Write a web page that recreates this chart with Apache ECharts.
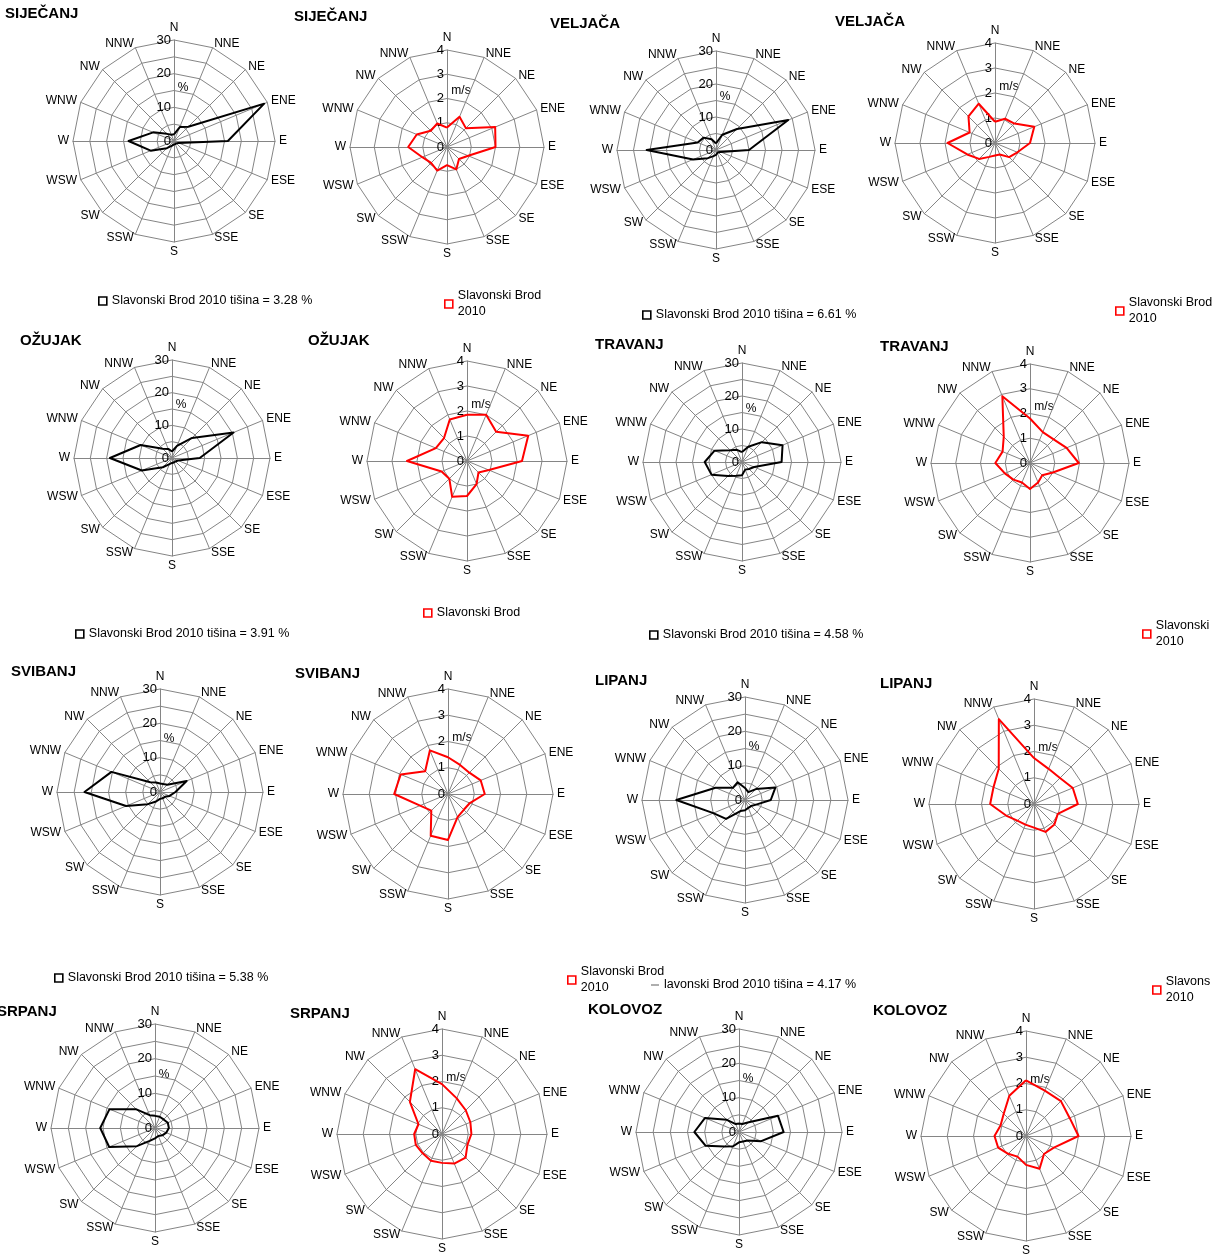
<!DOCTYPE html>
<html><head><meta charset="utf-8">
<script src="https://cdn.jsdelivr.net/npm/echarts@6/dist/echarts.min.js"></script>
<style>html,body{margin:0;padding:0;background:#fff}#c{width:1214px;height:1259px}</style>
</head><body><div id="c"></div>
<script>
// ---------- data ----------
const DIRECTIONS = ['N','NNE','NE','ENE','E','ESE','SE','SSE','S','SSW','SW','WSW','W','WNW','NW','NNW'];
const MONTHS = ['SIJEČANJ','VELJAČA','OŽUJAK','TRAVANJ','SVIBANJ','LIPANJ','SRPANJ','KOLOVOZ'];
const FREQ_TICKS = [0, 10, 20, 30];
const SPEED_TICKS = [0, 1, 2, 3, 4];
const STATION = 'Slavonski Brod 2010';
const CALM = [3.28, 6.61, 3.91, 4.58, 5.38, 4.17, null, null];

// frequency (%) per direction N..NNW
const freqSijecanj = [2, 4.5, 6, 29, 16, 1.5, 1, 1, 1, 1.5, 3, 7.5, 13.5, 6.7, 3, 2];
const freqVeljaca  = [2, 5, 9, 23.7, 10, 1.5, 1, 1, 1.5, 2, 3.5, 7.5, 21, 6, 5.3, 3.5];
const freqOzujak   = [2, 4, 8.7, 20.4, 8.5, 2, 1.5, 1.5, 1.5, 2, 4, 10, 19, 10.4, 4, 3];
const freqTravanj  = [3, 5, 8.5, 13.3, 12, 4, 3, 2.5, 4, 4.5, 6, 10, 11.3, 9, 5, 4];
const freqSvibanj  = [2.5, 2.5, 3, 8.4, 4.5, 3, 2, 2, 2, 3, 5, 10.7, 22, 15.3, 4, 3];
const freqLipanj   = [3.5, 2.5, 4.5, 9.6, 7.5, 3.5, 2.5, 2.5, 3, 3.5, 7.8, 10, 20, 9.3, 5, 5.6];
const freqSrpanj   = [3.5, 3.5, 3.5, 4, 4, 3.5, 3, 2.5, 3, 4, 7.4, 14.3, 15.8, 14.2, 7.6, 4];
const freqKolovoz  = [2.5, 2.5, 4, 12.3, 13, 7, 3.5, 3, 3, 4.5, 6, 10.5, 13, 10.7, 5, 2.5];

// mean speed (m/s) per direction N..NNW
const speedSijecanj = [0.8, 1.35, 1.1, 2.15, 2.0, 0.95, 0.7, 1.0, 0.75, 1.05, 0.93, 1.1, 1.6, 1.35, 0.95, 1.05];
const speedVeljaca  = [0.85, 1.05, 1.1, 1.7, 1.4, 0.97, 0.8, 0.5, 0.5, 0.6, 0.9, 1.2, 1.9, 1.1, 1.5, 1.7];
const speedOzujak   = [1.85, 2.0, 1.65, 2.65, 2.2, 0.95, 0.65, 1.0, 1.4, 1.55, 1.0, 1.1, 2.4, 1.35, 1.3, 1.8];
const speedTravanj  = [1.8, 1.35, 1.35, 1.6, 1.97, 1.0, 0.7, 0.85, 1.05, 0.85, 0.95, 1.1, 1.4, 1.2, 1.5, 2.92];
const speedSvibanj  = [1.4, 1.2, 1.15, 1.35, 1.4, 0.9, 0.85, 0.95, 1.75, 1.72, 0.9, 1.15, 2.05, 1.95, 1.23, 1.8];
const speedLipanj   = [1.75, 1.45, 1.4, 1.6, 1.67, 0.98, 1.1, 1.15, 0.9, 0.85, 0.9, 1.15, 1.67, 1.67, 1.9, 3.5];
const speedSrpanj   = [1.9, 1.47, 1.28, 1.17, 1.12, 1.05, 1.27, 1.22, 1.1, 1.1, 1.04, 1.08, 1.06, 0.97, 1.73, 2.67];
const speedKolovoz  = [2.12, 1.87, 1.88, 1.8, 2.0, 1.15, 0.97, 1.35, 1.1, 0.85, 0.96, 1.15, 1.2, 1.05, 1.2, 1.66];

const FREQ = [freqSijecanj, freqVeljaca, freqOzujak, freqTravanj, freqSvibanj, freqLipanj, freqSrpanj, freqKolovoz];
const SPEED = [speedSijecanj, speedVeljaca, speedOzujak, speedTravanj, speedSvibanj, speedLipanj, speedSrpanj, speedKolovoz];

// ---------- layout (positions only) ----------
const PANELS = [
  {k:'f', m:0, c:[174,141], r:101, t:[5,15],    lg:{x:98,  y:297}},
  {k:'s', m:0, c:[447,147], r:97,  t:[294,18],  lg:{x:444, y:284, txt:'Slavonski Brod\n2010'}},
  {k:'f', m:1, c:[716,150], r:99,  t:[550,25],  lg:{x:642, y:311}},
  {k:'s', m:1, c:[995,143], r:100, t:[835,23],  lg:{x:1115,y:291, txt:'Slavonski Brod\n2010'}},
  {k:'f', m:2, c:[172,458], r:98,  t:[20,342],  lg:{x:75,  y:630}},
  {k:'s', m:2, c:[467,461], r:100, t:[308,342], lg:{x:423, y:609, txt:'Slavonski Brod'}},
  {k:'f', m:3, c:[742,462], r:99,  t:[595,346], lg:{x:649, y:631}},
  {k:'s', m:3, c:[1030,463],r:99,  t:[880,348], lg:{x:1142,y:614, txt:'Slavonski\n2010'}},
  {k:'f', m:4, c:[160,792], r:103, t:[11,673],  lg:{x:54,  y:974}},
  {k:'s', m:4, c:[448,794], r:105, t:[295,675], lg:{x:567, y:960, txt:'Slavonski Brod\n2010'}},
  {k:'f', m:5, c:[745,800], r:103, t:[595,682], lg:{x:651, y:981, txt:'lavonski Brod 2010 tišina = 4.17 %', cut:true}},
  {k:'s', m:5, c:[1034,804],r:105, t:[880,685], lg:{x:1152,y:970, txt:'Slavons\n2010'}},
  {k:'f', m:6, c:[155,1128],r:104, t:[-3,1013]},
  {k:'s', m:6, c:[442,1134],r:105, t:[290,1015]},
  {k:'f', m:7, c:[739,1132],r:103, t:[588,1011]},
  {k:'s', m:7, c:[1026,1136],r:105,t:[873,1012]}
];

const FONT = 'Liberation Sans, Arial, sans-serif';
// ECharts radar places indicators counter-clockwise: reorder N, NNW, NW, ... NNE
const ORDER = [0].concat(Array.from({length: 15}, (_, i) => 15 - i));

const radars = [], series = [], legends = [], titles = [], graphics = [];
PANELS.forEach((p, i) => {
  const isF = p.k === 'f';
  const ticks = isF ? FREQ_TICKS : SPEED_TICKS;
  const max = ticks[ticks.length - 1];
  radars.push({
    center: p.c, radius: p.r, startAngle: 90, shape: 'polygon',
    splitNumber: isF ? 6 : 4,
    indicator: ORDER.map((d, j) => Object.assign({ name: DIRECTIONS[d], min: 0, max: max },
                 j === 0 ? { axisLabel: { show: true } } : {})),
    axisName: { color: '#000', fontSize: 12, fontFamily: FONT },
    nameGap: 4,
    splitLine: { lineStyle: { color: '#858585', width: 1 } },
    axisLine: { lineStyle: { color: '#858585', width: 1 } },
    splitArea: { show: false },
    axisTick: { show: false },
    axisLabel: { show: false, color: '#000', fontSize: 13, fontFamily: FONT, margin: 3,
      formatter: v => ticks.indexOf(v) >= 0 ? String(v) : '' }
  });
  const vals = (isF ? FREQ : SPEED)[p.m];
  const name = isF ? (STATION + ' tišina = ' + (CALM[p.m] != null ? CALM[p.m].toFixed(2) : '') + ' %') : STATION;
  const col = isF ? '#000000' : '#ff0000';
  series.push({
    type: 'radar', radarIndex: i, name: name, symbol: 'none', silent: true,
    lineStyle: { color: col, width: 2 }, itemStyle: { color: col },
    data: [{ name: name, value: ORDER.map(d => vals[d]) }]
  });
  titles.push({ text: MONTHS[p.m], left: p.t[0], top: p.t[1] - 9, padding: 0,
    textStyle: { fontSize: 15, fontWeight: 'bold', color: '#000', fontFamily: FONT } });
  graphics.push({ type: 'text', x: p.c[0] + (isF ? 9 : 14), y: p.c[1] - (isF ? 53 : 56),
    style: { text: isF ? '%' : 'm/s', fill: '#000', font: '12px ' + FONT, align: 'center', verticalAlign: 'middle' } });
  if (p.lg) {
    const txt = p.lg.txt;
    const two = txt && txt.indexOf('\n') >= 0;
    legends.push({
      left: p.lg.x, top: p.lg.y - 4, padding: 0, itemWidth: 8, itemHeight: 8, selectedMode: false,
      data: [{ name: name, icon: p.lg.cut ? 'path://M0,9.2L10,9.2L10,10L0,10Z' : 'rect' }],
      itemStyle: p.lg.cut ? { color: '#000', borderWidth: 0 } : { color: '#fff', borderColor: col, borderWidth: 1.6 },
      formatter: () => txt || name,
      textStyle: { fontSize: 12.5, color: '#000', fontFamily: FONT, lineHeight: 16,
        padding: two ? [16, 0, 0, 0] : 0 }
    });
  }
});

const chart = echarts.init(document.getElementById('c'), null, { renderer: 'canvas' });
chart.setOption({
  backgroundColor: '#fff',
  animation: false,
  title: titles,
  radar: radars,
  legend: legends,
  series: series,
  graphic: graphics
});
</script></body></html>
